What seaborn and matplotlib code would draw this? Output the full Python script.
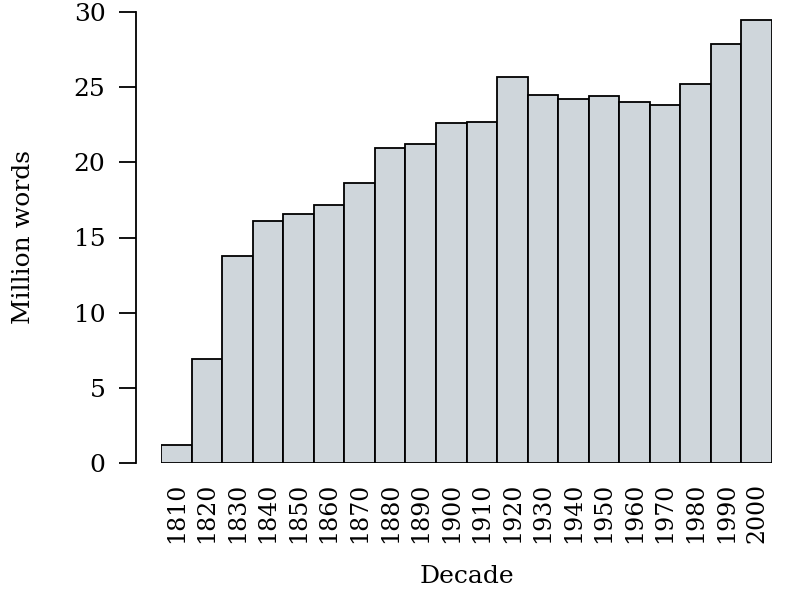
import matplotlib
matplotlib.use("Agg")
import matplotlib.pyplot as plt
import seaborn as sns
import pandas as pd

# data (million words per decade)
decades = [1810, 1820, 1830, 1840, 1850, 1860, 1870, 1880, 1890, 1900,
           1910, 1920, 1930, 1940, 1950, 1960, 1970, 1980, 1990, 2000]
words = [1.2, 6.95, 13.8, 16.1, 16.55, 17.15, 18.65, 20.95, 21.2, 22.6,
         22.7, 25.7, 24.45, 24.2, 24.42, 24.0, 23.8, 25.2, 27.9, 29.5]

df = pd.DataFrame({"Decade": [str(d) for d in decades], "Words": words})

sns.set_style("ticks")
plt.rcParams['font.family'] = ['DejaVu Serif']
plt.rcParams['text.color'] = 'black'
plt.rcParams['axes.labelcolor'] = 'black'
plt.rcParams['xtick.color'] = 'black'
plt.rcParams['ytick.color'] = 'black'

fig = plt.figure(figsize=(8, 6), dpi=100)
ax = fig.add_axes([161 / 800, 1 - 463 / 600, (772 - 161) / 800, (463 - 12) / 600])

sns.barplot(data=df, x="Decade", y="Words", color="#cfd6db", saturation=1,
            edgecolor="black", linewidth=1.3, width=1, ax=ax)

ax.set_xlim(-0.5, len(decades) - 0.5)
ax.set_ylim(0, 30)
ax.set_yticks([0, 5, 10, 15, 20, 25, 30])

for s in ["top", "right", "bottom"]:
    ax.spines[s].set_visible(False)
ax.spines["left"].set_position(("outward", 18))
ax.spines["left"].set_linewidth(1.3)
ax.spines["left"].set_color("black")
ax.tick_params(axis="y", length=12, width=1.3, labelsize=18, pad=10)
ax.tick_params(axis="x", length=0, labelsize=17, pad=14, rotation=90)

ax.set_xlabel("Decade", fontsize=18, labelpad=16)
ax.set_ylabel("Million words", fontsize=18, labelpad=28)

fig.savefig("out.png", dpi=100)
